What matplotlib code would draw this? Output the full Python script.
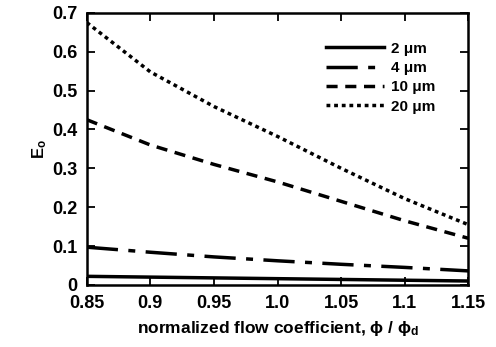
import numpy as np
import matplotlib
matplotlib.use("Agg")
import matplotlib.pyplot as plt

plt.rcParams["font.family"] = ["Liberation Sans", "DejaVu Sans"]
plt.rcParams["font.weight"] = "bold"
plt.rcParams["axes.labelweight"] = "bold"
plt.rcParams["mathtext.fontset"] = "custom"
plt.rcParams["mathtext.rm"] = "Liberation Sans:bold"
plt.rcParams["mathtext.it"] = "Liberation Sans:bold"
plt.rcParams["mathtext.bf"] = "Liberation Sans:bold"

# valeurs
phi = [0.85, 0.90, 0.95, 1.00, 1.05, 1.10, 1.15]
e_2um = [0.022, 0.020, 0.018, 0.016, 0.014, 0.012, 0.010]
e_4um = [0.097, 0.084, 0.072, 0.062, 0.053, 0.045, 0.036]
e_10um = [0.425, 0.360, 0.310, 0.265, 0.215, 0.165, 0.120]
e_20um = [0.675, 0.548, 0.459, 0.382, 0.300, 0.222, 0.155]
labels = ["2 \u03bcm", "4 \u03bcm", "10 \u03bcm", "20 \u03bcm"]
xticks = [0.85, 0.9, 0.95, 1.0, 1.05, 1.1, 1.15]
xticklabels = ["0.85", "0.9", "0.95", "1.0", "1.05", "1.1", "1.15"]
yticks = [0, 0.1, 0.2, 0.3, 0.4, 0.5, 0.6, 0.7]
yticklabels = ["0", "0.1", "0.2", "0.3", "0.4", "0.5", "0.6", "0.7"]

fig = plt.figure(figsize=(4.96, 3.47), dpi=100)
ax = fig.add_axes([0.175, 0.179, 0.769, 0.784])

ax.plot(phi, e_2um, color="black", lw=2.5, ls="-", label=labels[0])
ax.plot(phi, e_4um, color="black", lw=2.5, ls=(0, (9, 3, 2, 3)), label=labels[1])
ax.plot(phi, e_10um, color="black", lw=2.5, ls=(0, (3.2, 2.2)), label=labels[2])
ax.plot(phi, e_20um, color="black", lw=2.5, ls=(0, (1.1, 1.1)), label=labels[3])

ax.set_xlim(0.85, 1.15)
ax.set_ylim(0, 0.7)
ax.set_xticks(xticks)
ax.set_xticklabels(xticklabels)
ax.set_yticks(yticks)
ax.set_yticklabels(yticklabels)
ax.tick_params(direction="in", length=6, width=1.3, top=True, right=True,
               labelsize=13)
ax.tick_params(axis="x", pad=7)
ax.tick_params(axis="y", pad=7)
for s in ax.spines.values():
    s.set_linewidth(1.8)

ax.set_xlabel(r"normalized flow coefficient, $\phi$ / $\phi_d$", fontsize=12.5, labelpad=5)
ax.set_ylabel(r"E$_o$", fontsize=12, labelpad=2)

ax.legend(loc="upper right", frameon=False, fontsize=11, handlelength=3.8,
          handletextpad=0.45, labelspacing=0.35, bbox_to_anchor=(0.95, 0.945))

fig.savefig("out.png", dpi=100)
